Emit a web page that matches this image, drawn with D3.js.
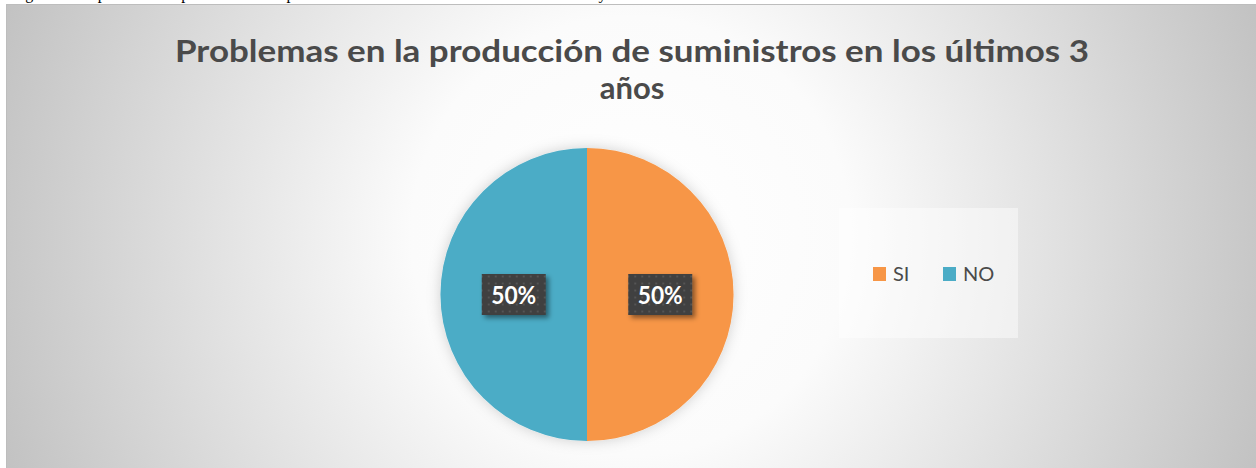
<!DOCTYPE html>
<html>
<head>
<meta charset="utf-8">
<script src="https://cdn.jsdelivr.net/npm/d3@7"></script>
<style>
  body { margin: 0; background: #fff; }
  svg { display: block; }
</style>
</head>
<body>
<div class="chart"></div>
<script>
var svgWidth = 1256;
var svgHeight = 468;

// chart data
var categories = ["SI", "NO"];
var values = [50, 50];
var colors = ["#F79646", "#4BACC6"];
var chartTitle = ["Problemas en la producción de suministros en los últimos 3", "años"];
var caption = "Figura 6. Respuesta sobre problemas en la producción de suministros en los últimos 3 años y";

var svg = d3.select(".chart")
  .append("svg")
  .attr("width", svgWidth)
  .attr("height", svgHeight);

var defs = svg.append("defs");

// radial background like the office chart area
var bg = defs.append("radialGradient")
  .attr("id", "bgGrad")
  .attr("gradientUnits", "userSpaceOnUse")
  .attr("cx", 631).attr("cy", 236).attr("r", 667);
bg.append("stop").attr("offset", "0%").attr("stop-color", "#ffffff");
bg.append("stop").attr("offset", "33%").attr("stop-color", "#fbfbfb");
bg.append("stop").attr("offset", "100%").attr("stop-color", "#c2c2c2");

// dotted pattern for the label boxes
var pat = defs.append("pattern")
  .attr("id", "dots")
  .attr("patternUnits", "userSpaceOnUse")
  .attr("width", 7).attr("height", 7);
pat.append("rect").attr("width", 7).attr("height", 7).attr("fill", "#3f3f3f");
pat.append("rect").attr("x", 2).attr("y", 2).attr("width", 2).attr("height", 2).attr("fill", "#555555");

var boxShadow = defs.append("filter").attr("id", "boxShadow")
  .attr("x", "-30%").attr("y", "-30%").attr("width", "170%").attr("height", "170%");
boxShadow.append("feDropShadow")
  .attr("dx", 3).attr("dy", 3).attr("stdDeviation", 2.5)
  .attr("flood-color", "#000").attr("flood-opacity", 0.45);

var pieShadow = defs.append("filter").attr("id", "pieShadow")
  .attr("x", "-20%").attr("y", "-20%").attr("width", "140%").attr("height", "140%");
pieShadow.append("feDropShadow")
  .attr("dx", 0).attr("dy", 0).attr("stdDeviation", 7)
  .attr("flood-color", "#000").attr("flood-opacity", 0.18);

// caption of the document, cut off above the picture (only descenders show)
svg.append("text")
  .attr("x", 12)
  .attr("y", -1.5)
  .attr("font-family", "Liberation Serif")
  .attr("font-size", 16)
  .attr("fill", "#000")
  .text(caption);

// chart area
svg.append("rect")
  .attr("x", 6.5).attr("y", 4.5)
  .attr("width", 1252).attr("height", 466)
  .attr("fill", "url(#bgGrad)")
  .attr("stroke", "#bdbdbd")
  .attr("stroke-width", 1);

// title
var titleGroup = svg.append("g");
titleGroup.append("text")
  .attr("x", 632).attr("y", 62)
  .attr("text-anchor", "middle")
  .attr("font-family", "Lato")
  .attr("font-weight", "bold")
  .attr("font-size", 31)
  .attr("fill", "#4a4a4a")
  .attr("textLength", 914)
  .attr("lengthAdjust", "spacingAndGlyphs")
  .text(chartTitle[0]);
titleGroup.append("text")
  .attr("x", 632).attr("y", 99)
  .attr("text-anchor", "middle")
  .attr("font-family", "Lato")
  .attr("font-weight", "bold")
  .attr("font-size", 31)
  .attr("fill", "#4a4a4a")
  .text(chartTitle[1]);

// pie
var radius = 146.5;
var pieGroup = svg.append("g")
  .attr("transform", "translate(587, 294.5)");

var pie = d3.pie().sort(null).value(d => d);
var arc = d3.arc().innerRadius(0).outerRadius(radius);
var labelArc = d3.arc().innerRadius(0).outerRadius(radius);

var arcs = pie(values);

pieGroup.append("g")
  .attr("filter", "url(#pieShadow)")
  .selectAll("path")
  .data(arcs)
  .enter()
  .append("path")
  .attr("d", arc)
  .attr("fill", (d, i) => colors[i]);

// data labels
var labels = pieGroup.selectAll(".lbl")
  .data(arcs)
  .enter()
  .append("g")
  .attr("class", "lbl")
  .attr("transform", d => `translate(${labelArc.centroid(d)})`);

labels.append("rect")
  .attr("x", -32).attr("y", -20.5)
  .attr("width", 64).attr("height", 41)
  .attr("fill", "url(#dots)")
  .attr("filter", "url(#boxShadow)");

labels.append("text")
  .attr("y", 9.5)
  .attr("text-anchor", "middle")
  .attr("font-family", "Lato")
  .attr("font-weight", "bold")
  .attr("font-size", 25)
  .attr("fill", "#ffffff")
  .attr("textLength", 45)
  .attr("lengthAdjust", "spacingAndGlyphs")
  .text(d => Math.round(d.data / d3.sum(values) * 100) + "%");

// legend
var legend = svg.append("g");
legend.append("rect")
  .attr("x", 839).attr("y", 208)
  .attr("width", 179).attr("height", 130)
  .attr("fill", "#ffffff")
  .attr("opacity", 0.45);

var legendX = d3.scaleOrdinal()
  .domain(categories)
  .range([873, 943]);

var items = legend.selectAll(".item")
  .data(categories)
  .enter()
  .append("g")
  .attr("class", "item")
  .attr("transform", d => `translate(${legendX(d)}, 267)`);

items.append("rect")
  .attr("width", 13).attr("height", 14)
  .attr("fill", (d, i) => colors[i]);

items.append("text")
  .attr("x", 20).attr("y", 14)
  .attr("font-family", "Lato")
  .attr("font-size", 20)
  .attr("fill", "#4a4a4a")
  .text(d => d);
</script>
</body>
</html>
